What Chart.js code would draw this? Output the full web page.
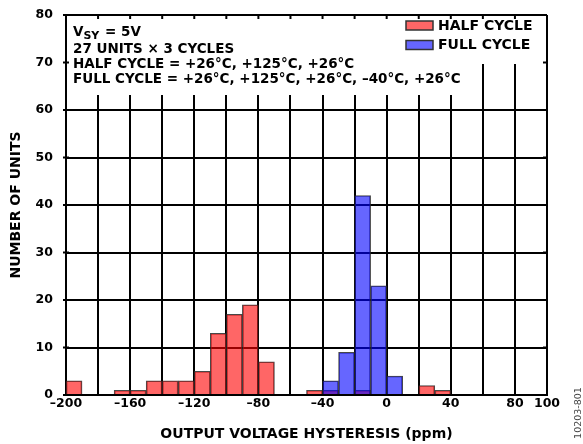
<!DOCTYPE html>
<html><head><meta charset="utf-8">
<script src="https://cdn.jsdelivr.net/npm/chart.js@4"></script>
<style>html,body{margin:0;padding:0;background:#fff;overflow:hidden}#wrap{width:583px;height:444px;position:relative}</style>
</head><body><div id="wrap"><canvas id="c"></canvas></div>
<script>
// ---- data ----
const binCenters = [-195,-185,-175,-165,-155,-145,-135,-125,-115,-105,-95,-85,-75,-65,-55,-45,-35,-25,-15,-5,5,15,25,35,45,55,65,75,85,95];
const halfCycle  = [3,0,0,1,1,3,3,3,5,13,17,19,7,0,0,1,1,0,1,0,0,0,2,1,0,0,0,0,0,0];
const fullCycle  = [0,0,0,0,0,0,0,0,0,0,0,0,0,0,0,0,3,9,42,23,4,0,0,0,0,0,0,0,0,0];
const xTickLabels = [-200,-160,-120,-80,-40,0,40,80,100];
const seriesNames = ['HALF CYCLE','FULL CYCLE'];
const noteTitle = ['V','SY',' = 5V'];
const noteLines = ['27 UNITS \u00d7 3 CYCLES','HALF CYCLE = +26\u00b0C, +125\u00b0C, +26\u00b0C','FULL CYCLE = +26\u00b0C, +125\u00b0C, +26\u00b0C, \u201340\u00b0C, +26\u00b0C'];
const xTitle = 'OUTPUT VOLTAGE HYSTERESIS (ppm)';
const yTitle = 'NUMBER OF UNITS';
const figureId = '10203-801';

const FAM = "'DejaVu Sans', sans-serif";
Chart.defaults.font.family = FAM;
Chart.defaults.font.weight = 'bold';
Chart.defaults.font.size = 12.5;
Chart.defaults.color = '#000';

function fmt(v){ return v < 0 ? '\u2013' + Math.abs(v) : String(v); }

const overlay = {
  id: 'overlay',
  beforeDatasetsDraw(chart){
    const ctx = chart.ctx, a = chart.chartArea;
    ctx.save();
    ctx.fillStyle = '#fff';
    ctx.fillRect(a.left + 1, a.top + 1, 402, 79);      // note box
    ctx.fillRect(a.left + 334, a.top + 1, a.right - a.left - 335, 48); // legend box
    // small inward ticks on the top / right border
    ctx.strokeStyle = '#000'; ctx.lineWidth = 2;
    const xs = chart.scales.x, ys = chart.scales.y;
    xs.ticks.forEach(t => { const p = xs.getPixelForValue(t.value);
      ctx.beginPath(); ctx.moveTo(p, a.top); ctx.lineTo(p, a.top + 4); ctx.stroke(); });
    ys.ticks.forEach(t => { const p = ys.getPixelForValue(t.value);
      ctx.beginPath(); ctx.moveTo(a.right, p); ctx.lineTo(a.right - 4, p); ctx.stroke();
      ctx.beginPath(); ctx.moveTo(a.left - 3, p); ctx.lineTo(a.left + 3, p); ctx.stroke(); });
    ctx.restore();
  },
  afterDraw(chart){
    const ctx = chart.ctx, a = chart.chartArea;
    ctx.save();
    ctx.fillStyle = '#000';
    ctx.textBaseline = 'alphabetic';
    ctx.textAlign = 'left';
    // notes
    const x0 = a.left + 7;
    ctx.font = 'bold 13.5px ' + FAM;
    ctx.fillText(noteTitle[0], x0, 36);
    let w = ctx.measureText(noteTitle[0]).width;
    ctx.font = 'bold 11px ' + FAM;
    ctx.fillText(noteTitle[1], x0 + w, 39);
    w += ctx.measureText(noteTitle[1]).width;
    ctx.font = 'bold 13.5px ' + FAM;
    ctx.fillText(noteTitle[2], x0 + w + 1, 36);
    const bases = [53, 68, 83];
    noteLines.forEach((t, i) => ctx.fillText(t, x0, bases[i]));
    // legend
    ctx.font = 'bold 14px ' + FAM;
    ctx.textBaseline = 'middle';
    chart.data.datasets.forEach((ds, i) => {
      const y = 25.5 + i * 19.5;
      ctx.fillStyle = ds.backgroundColor;
      ctx.fillRect(406, y - 4.5, 27, 9);
      ctx.strokeStyle = '#333'; ctx.lineWidth = 1.5;
      ctx.strokeRect(406, y - 4.5, 27, 9);
      ctx.fillStyle = '#000';
      ctx.fillText(ds.label, 438, y + 0.5);
    });
    // figure id
    ctx.translate(579, 413);
    ctx.rotate(-Math.PI / 2);
    ctx.font = '9.5px ' + FAM;
    ctx.fillStyle = '#444';
    ctx.textAlign = 'center';
    ctx.fillText(figureId, 0, 0);
    ctx.restore();
  }
};

new Chart(document.getElementById('c'), {
  type: 'bar',
  data: {
    datasets: [
      { label: seriesNames[0], data: binCenters.map((x, i) => ({x, y: halfCycle[i]})),
        backgroundColor: 'rgba(255,0,0,0.6)', borderColor: 'rgba(40,40,40,0.85)', borderWidth: 1, order: 1 },
      { label: seriesNames[1], data: binCenters.map((x, i) => ({x, y: fullCycle[i]})),
        backgroundColor: 'rgba(0,0,255,0.6)', borderColor: 'rgba(40,40,40,0.85)', borderWidth: 1, order: 0 }
    ]
  },
  options: {
    responsive: true, maintainAspectRatio: false, animation: false,
    grouped: false, barPercentage: 1, categoryPercentage: 1,
    layout: { padding: { top: 15, right: 36, left: 0, bottom: 0 } },
    plugins: { legend: { display: false }, tooltip: { enabled: false } },
    scales: {
      x: {
        type: 'linear', min: -200, max: 100, offset: false,
        grid: { color: '#000', lineWidth: 2, drawTicks: false, offset: false },
        border: { color: '#000', width: 2 },
        ticks: { stepSize: 20, autoSkip: false, maxRotation: 0, padding: 1,
          callback: v => xTickLabels.includes(v) ? fmt(v) : '' },
        title: { display: true, text: xTitle, font: { size: 14, weight: 'bold' }, padding: { top: 0, bottom: 1 } },
        afterFit: s => { s.height = 49; s.paddingLeft = 0; s.paddingRight = 0; }
      },
      y: {
        min: 0, max: 80,
        grid: { color: '#000', lineWidth: 2, drawTicks: false },
        border: { color: '#000', width: 2 },
        ticks: { stepSize: 10, padding: 13 },
        title: { display: true, text: yTitle, font: { size: 14, weight: 'bold' }, padding: { top: 8, bottom: 0 } },
        afterFit: s => { s.width = 66; s.paddingTop = 0; s.paddingBottom = 0; }
      }
    }
  },
  plugins: [overlay]
});
</script></body></html>
